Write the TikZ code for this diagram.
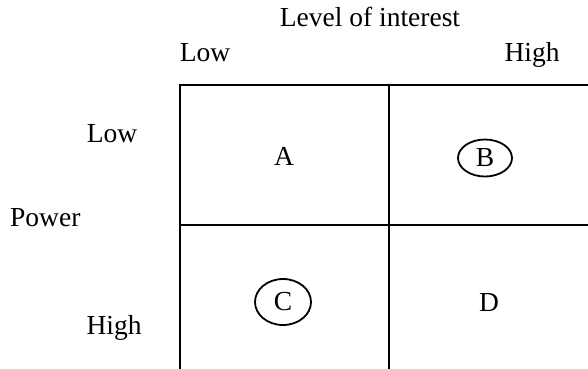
\documentclass[tikz,border=0pt]{standalone}
\usepackage{fontspec}
\setmainfont{Liberation Serif}
\usetikzlibrary{shapes.geometric}
\begin{document}
\begin{tikzpicture}[x=1pt,y=-1pt,
  lbl/.style={anchor=base,inner sep=0pt,font=\fontsize{27.5}{32}\selectfont},
  grid/.style={line width=1.4pt,black},
  oval/.style={draw,ellipse,line width=1.8pt,inner sep=0pt}]
\useasboundingbox (0,0) rectangle (588,368);
% grid
\coordinate (tl) at (180,85);
\coordinate (tm) at (389,85);
\coordinate (tr) at (592,85);
\coordinate (ml) at (180,225);
\coordinate (mr) at (592,225);
\coordinate (bl) at (180,372);
\coordinate (bm) at (389,372);
\draw[grid] (tr) -- (tl) -- (bl);
\draw[grid] (tm) -- (bm);
\draw[grid] (ml) -- (mr);
% labels
\node[lbl] (loi) at (370,26) {Level of interest};
\node[lbl] (lowt) at (205,61) {Low};
\node[lbl] (hight) at (532,61) {High};
\node[lbl] (lowl) at (112,142) {Low};
\node[lbl,anchor=base west] (power) at (10,226) {Power};
\node[lbl] (highl) at (114,334) {High};
% cells
\node[lbl] (A) at (284,165) {A};
\node[oval,minimum width=54pt,minimum height=37pt] (Bo) at (485,158) {};
\node[lbl] (B) at (485,166) {B};
\node[oval,minimum width=56pt,minimum height=46pt] (Co) at (283,302) {};
\node[lbl] (C) at (283,310) {C};
\node[lbl] (D) at (489,311) {D};
\end{tikzpicture}
\end{document}
